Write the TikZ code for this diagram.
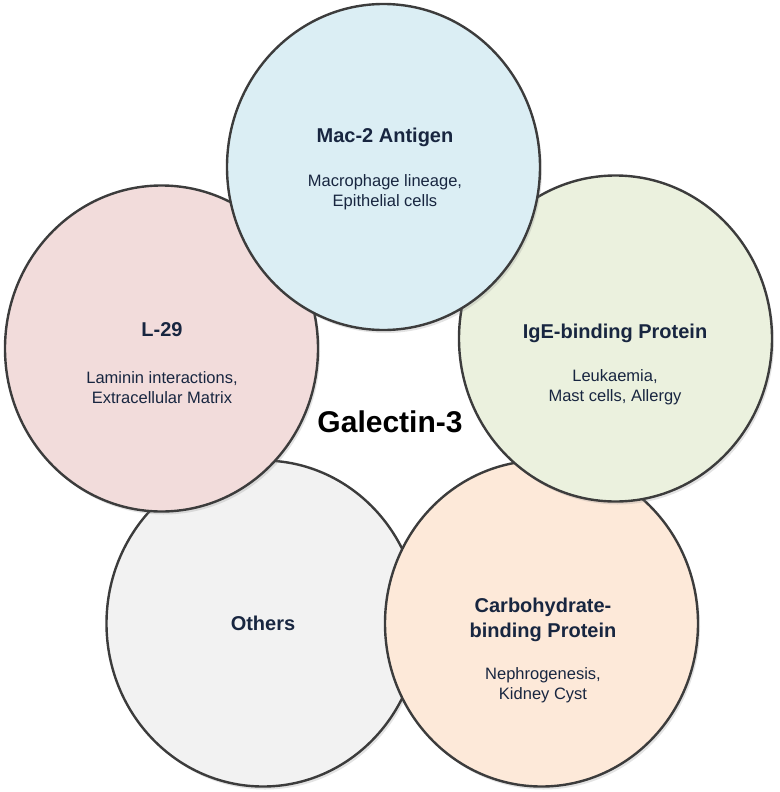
\documentclass[tikz,border=0pt]{standalone}
\usepackage{fontspec}
\setmainfont{Liberation Sans}
\usetikzlibrary{shapes.geometric,shadows}
\definecolor{edgegray}{RGB}{60,60,60}
\definecolor{navy}{RGB}{24,38,64}
\definecolor{fillblue}{RGB}{219,238,244}
\definecolor{fillpink}{RGB}{242,220,219}
\definecolor{fillgreen}{RGB}{235,241,222}
\definecolor{fillpeach}{RGB}{253,233,217}
\definecolor{fillgray}{RGB}{242,242,242}
\begin{document}
\begin{tikzpicture}[x=1pt,y=-1pt,
  bub/.style={ellipse, draw=edgegray, line width=2.4pt, minimum width=313pt, minimum height=326pt, inner sep=0pt,
    drop shadow={opacity=0.22, shadow xshift=2pt, shadow yshift=-3pt}},
  ttl/.style={font=\bfseries\fontsize{20}{25}\selectfont, text=navy, align=center},
  subtxt/.style={font=\fontsize{16.5}{20}\selectfont, text=navy, align=center},
  central/.style={font=\bfseries\fontsize{30}{36}\selectfont, text=black}]
\useasboundingbox (0,0) rectangle (779,792);
% ellipses, bottom to top
\node[bub, fill=fillgray]  (others) at (263,623.5) {};
\node[bub, fill=fillpeach] (carb)   at (541.5,623.5) {};
\node[bub, fill=fillgreen] (ige)    at (615.5,338.5) {};
\node[bub, fill=fillpink]  (l29)    at (161.5,348.5) {};
\node[bub, fill=fillblue]  (mac)    at (383.5,167) {};
% texts
\node[ttl] (mact) at (385,137) {Mac-2 Antigen};
\node[subtxt] (macs) at (385,192) {Macrophage lineage,\\Epithelial cells};
\node[ttl] (l29t) at (162,330) {L-29};
\node[subtxt] (l29s) at (162,388) {Laminin interactions,\\Extracellular Matrix};
\node[ttl] (iget) at (615,333) {IgE-binding Protein};
\node[subtxt] (iges) at (615,387) {Leukaemia,\\Mast cells, Allergy};
\node[ttl] (carbt) at (543,620) {Carbohydrate-\\binding Protein};
\node[subtxt] (carbs) at (543,685) {Nephrogenesis,\\Kidney Cyst};
\node[ttl] (otht) at (263,623) {Others};
\node[central] (gal) at (390,422) {Galectin-3};
\end{tikzpicture}
\end{document}
